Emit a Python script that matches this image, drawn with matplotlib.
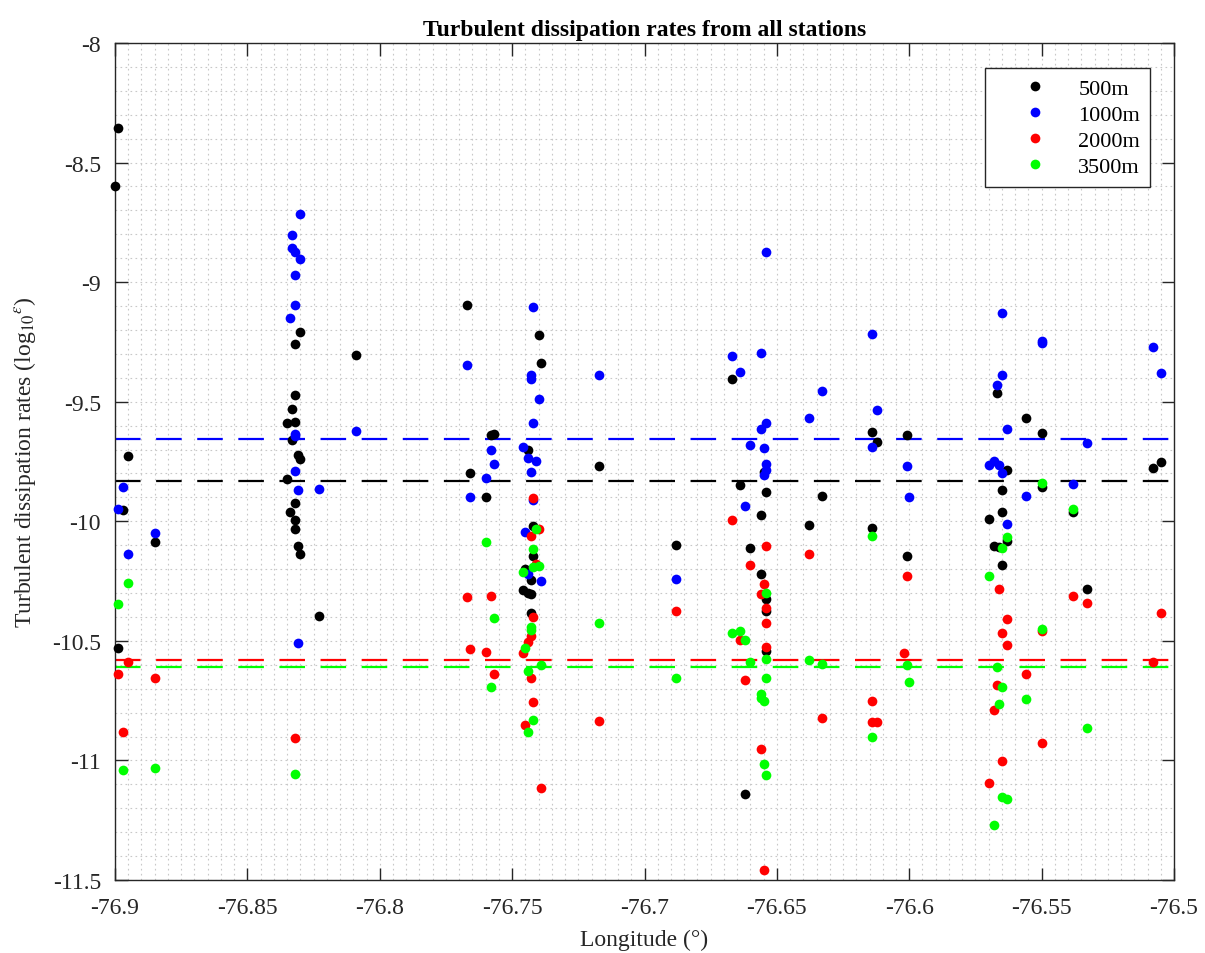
import matplotlib
matplotlib.use("Agg")
import matplotlib.pyplot as plt
from matplotlib.ticker import MultipleLocator

plt.rcParams['font.family'] = ['Liberation Serif', 'DejaVu Serif']
plt.rcParams['mathtext.fontset'] = 'stix'

# ---------------- data ----------------
lon_500 = [-76.899, -76.900, -76.830, -76.832, -76.809, -76.832, -76.833, -76.835, -76.832, -76.833,
           -76.895, -76.831, -76.830, -76.835, -76.832, -76.834, -76.897, -76.832, -76.832, -76.885,
           -76.831, -76.830, -76.823, -76.899, -76.767, -76.740, -76.739, -76.758, -76.757, -76.744,
           -76.766, -76.760, -76.717, -76.742, -76.742, -76.745, -76.743, -76.746, -76.744, -76.743,
           -76.743, -76.667, -76.664, -76.655, -76.654, -76.633, -76.656, -76.638, -76.688, -76.660,
           -76.656, -76.654, -76.654, -76.654, -76.662, -76.614, -76.612, -76.614, -76.601, -76.601,
           -76.567, -76.556, -76.550, -76.508, -76.505, -76.563, -76.565, -76.550, -76.565, -76.570,
           -76.538, -76.563, -76.568, -76.566, -76.565, -76.533]
eps_500 = [-8.357, -8.598, -9.208, -9.259, -9.305, -9.474, -9.530, -9.591, -9.584, -9.660,
           -9.727, -9.723, -9.741, -9.824, -9.925, -9.961, -9.953, -9.994, -10.031, -10.088,
           -10.105, -10.138, -10.396, -10.531, -9.095, -9.219, -9.339, -9.639, -9.635, -9.702,
           -9.798, -9.897, -9.769, -10.020, -10.145, -10.201, -10.247, -10.287, -10.298, -10.305,
           -10.382, -9.406, -9.849, -9.792, -9.876, -9.894, -9.975, -10.017, -10.099, -10.110,
           -10.222, -10.326, -10.375, -10.543, -11.141, -9.628, -9.669, -10.030, -9.640, -10.145,
           -9.462, -9.570, -9.632, -9.776, -9.754, -9.787, -9.869, -9.855, -9.961, -9.989,
           -9.961, -10.082, -10.103, -10.107, -10.183, -10.282]

lon_1000 = [-76.830, -76.833, -76.833, -76.832, -76.830, -76.832, -76.832, -76.834, -76.809, -76.832,
            -76.832, -76.832, -76.897, -76.831, -76.823, -76.899, -76.885, -76.895, -76.831, -76.742,
            -76.767, -76.743, -76.743, -76.740, -76.742, -76.717, -76.746, -76.758, -76.744, -76.741,
            -76.757, -76.743, -76.760, -76.766, -76.742, -76.745, -76.739, -76.744, -76.654, -76.667,
            -76.656, -76.664, -76.633, -76.638, -76.654, -76.656, -76.660, -76.655, -76.654, -76.654,
            -76.655, -76.662, -76.688, -76.614, -76.612, -76.614, -76.601, -76.600, -76.565, -76.550,
            -76.550, -76.508, -76.505, -76.565, -76.567, -76.563, -76.533, -76.570, -76.568, -76.566,
            -76.565, -76.538, -76.556, -76.563]
eps_1000 = [-8.717, -8.802, -8.858, -8.872, -8.904, -8.972, -9.097, -9.148, -9.621, -9.633,
            -9.645, -9.789, -9.855, -9.869, -9.863, -9.950, -10.049, -10.137, -10.509, -9.102,
            -9.347, -9.389, -9.406, -9.490, -9.587, -9.388, -9.688, -9.702, -9.736, -9.749,
            -9.759, -9.795, -9.821, -9.897, -9.911, -10.043, -10.251, -10.219, -8.872, -9.310,
            -9.297, -9.375, -9.457, -9.569, -9.590, -9.616, -9.679, -9.695, -9.759, -9.787,
            -9.808, -9.934, -10.243, -9.218, -9.536, -9.690, -9.770, -9.900, -9.127, -9.248,
            -9.256, -9.271, -9.381, -9.389, -9.431, -9.616, -9.671, -9.764, -9.748, -9.764,
            -9.799, -9.845, -9.894, -10.013]

lon_2000 = [-76.895, -76.899, -76.885, -76.897, -76.832, -76.742, -76.740, -76.743, -76.741, -76.767,
            -76.758, -76.742, -76.743, -76.744, -76.746, -76.766, -76.760, -76.757, -76.743, -76.742,
            -76.745, -76.739, -76.717, -76.667, -76.654, -76.638, -76.660, -76.655, -76.656, -76.654,
            -76.688, -76.654, -76.664, -76.654, -76.662, -76.633, -76.656, -76.655, -76.614, -76.614,
            -76.612, -76.601, -76.602, -76.566, -76.538, -76.533, -76.505, -76.563, -76.550, -76.565,
            -76.563, -76.508, -76.556, -76.567, -76.568, -76.550, -76.565, -76.570]
eps_2000 = [-10.589, -10.637, -10.655, -10.883, -10.908, -9.902, -10.031, -10.061, -10.177, -10.315,
            -10.312, -10.400, -10.480, -10.505, -10.552, -10.536, -10.545, -10.640, -10.656, -10.756,
            -10.851, -11.117, -10.834, -9.993, -10.102, -10.138, -10.183, -10.264, -10.303, -10.361,
            -10.377, -10.427, -10.497, -10.526, -10.665, -10.821, -10.953, -11.459, -10.750, -10.840,
            -10.840, -10.230, -10.550, -10.283, -10.312, -10.343, -10.382, -10.407, -10.459, -10.469,
            -10.516, -10.590, -10.637, -10.683, -10.790, -10.926, -11.004, -11.093]

lon_3500 = [-76.895, -76.899, -76.897, -76.885, -76.832, -76.741, -76.760, -76.742, -76.740, -76.742,
            -76.746, -76.757, -76.743, -76.743, -76.745, -76.739, -76.744, -76.758, -76.742, -76.744,
            -76.717, -76.654, -76.667, -76.664, -76.662, -76.654, -76.660, -76.638, -76.633, -76.688,
            -76.654, -76.656, -76.656, -76.655, -76.655, -76.654, -76.614, -76.614, -76.601, -76.600,
            -76.550, -76.538, -76.563, -76.565, -76.570, -76.550, -76.567, -76.565, -76.556, -76.566,
            -76.533, -76.565, -76.563, -76.568]
eps_3500 = [-10.259, -10.347, -11.042, -11.032, -11.057, -10.031, -10.088, -10.114, -10.187, -10.193,
            -10.212, -10.406, -10.442, -10.456, -10.528, -10.602, -10.626, -10.693, -10.833, -10.883,
            -10.425, -10.298, -10.469, -10.459, -10.497, -10.576, -10.587, -10.582, -10.596, -10.654,
            -10.657, -10.721, -10.740, -10.750, -11.013, -11.059, -10.060, -10.900, -10.600, -10.670,
            -9.838, -9.950, -10.064, -10.110, -10.229, -10.449, -10.608, -10.692, -10.743, -10.766,
            -10.863, -11.153, -11.160, -11.269]

depth_labels = ['500m', '1000m', '2000m', '3500m']
mean_eps = [-9.831, -9.657, -10.582, -10.608]
series_colors = ['#000000', '#0000ff', '#ff0000', '#00ff00']
x_ticks = [-76.9, -76.85, -76.8, -76.75, -76.7, -76.65, -76.6, -76.55, -76.5]
y_ticks = [-11.5, -11, -10.5, -10, -9.5, -9, -8.5, -8]

# ---------------- figure ----------------
fig = plt.figure(figsize=(12.05, 9.54), dpi=100)
ax = fig.add_axes([115/1205, 1 - 881/954, (1174 - 115)/1205, (881 - 44)/954])

lons = [lon_500, lon_1000, lon_2000, lon_3500]
epss = [eps_500, eps_1000, eps_2000, eps_3500]

for m, c in zip(mean_eps, series_colors):
    ax.axhline(m, color=c, lw=1.6, linestyle=(0, (11.5, 7.0)), zorder=2)

for lo, ep, c, lab in zip(lons, epss, series_colors, depth_labels):
    ax.plot(lo, ep, 'o', color=c, ms=7, mec=c, mew=0, label=lab, zorder=3, clip_on=False)

ax.set_xlim(-76.9, -76.5)
ax.set_ylim(-11.5, -8)
ax.set_xticks(x_ticks)
ax.set_xticklabels(['%g' % v for v in x_ticks])
ax.set_yticks(y_ticks)
ax.set_yticklabels(['%g' % v for v in y_ticks])
ax.xaxis.set_minor_locator(MultipleLocator(0.005))
ax.yaxis.set_minor_locator(MultipleLocator(0.1))

ax.grid(True, which='both', color='#c8c8c8', linestyle=(0, (1.5, 3)), lw=0.8, zorder=0)
ax.set_axisbelow(True)
ax.tick_params(which='major', direction='in', length=9, width=1, top=True, right=True,
               labelsize=17, colors='#262626')
ax.tick_params(axis='x', which='major', pad=12)
ax.tick_params(axis='y', which='major', pad=10)
ax.tick_params(which='minor', length=0, top=True, right=True)
for s in ax.spines.values():
    s.set_color('#262626')
    s.set_linewidth(1.0)

ax.set_xlabel('Longitude (°)', fontsize=17, color='#262626', labelpad=8)
ax.set_ylabel(r'Turbulent dissipation rates (log$_{10}$$^{\epsilon}$)', fontsize=17,
              color='#262626', labelpad=10)
ax.set_title('Turbulent dissipation rates from all stations', fontsize=17, fontweight='bold', pad=6)

leg = ax.legend(loc='upper right', bbox_to_anchor=(1150/1205, 1 - 69/954),
                bbox_transform=fig.transFigure, borderaxespad=0,
                fontsize=16, frameon=True, fancybox=False, framealpha=1,
                edgecolor='#262626', handlelength=3.6, handletextpad=0.15, borderpad=0.45,
                labelspacing=0.25, markerscale=1.0)
leg.get_frame().set_linewidth(1.0)

fig.savefig('out.png', dpi=100)
